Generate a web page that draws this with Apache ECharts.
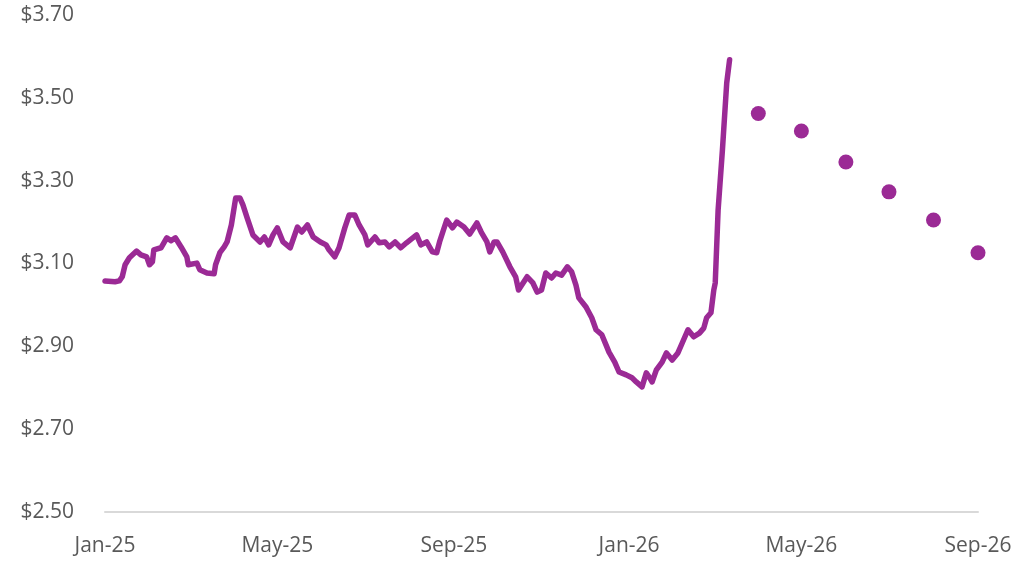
<!DOCTYPE html>
<html>
<head>
<meta charset="utf-8">
<script src="https://cdn.jsdelivr.net/npm/echarts@6/dist/echarts.min.js"></script>
<style>
html,body{margin:0;padding:0;background:#fff;}
#chart{width:1024px;height:562px;}
</style>
</head>
<body>
<div id="chart"></div>
<script>
// Historical daily price (dates and values)
const histDates = [
 '2025-01-01','2025-01-08','2025-01-11','2025-01-13','2025-01-15','2025-01-18','2025-01-23','2025-01-26','2025-01-30','2025-02-01',
 '2025-02-03','2025-02-04','2025-02-09','2025-02-13','2025-02-16','2025-02-19','2025-02-23','2025-02-27','2025-02-28','2025-03-06',
 '2025-03-08','2025-03-13','2025-03-18','2025-03-19','2025-03-22','2025-03-25','2025-03-27','2025-03-30','2025-04-02','2025-04-05',
 '2025-04-07','2025-04-10','2025-04-14','2025-04-19','2025-04-22','2025-04-25','2025-04-28','2025-05-01','2025-05-05','2025-05-10',
 '2025-05-15','2025-05-18','2025-05-22','2025-05-26','2025-05-31','2025-06-04','2025-06-06','2025-06-10','2025-06-13','2025-06-17',
 '2025-06-20','2025-06-24','2025-06-27','2025-07-01','2025-07-03','2025-07-08','2025-07-11','2025-07-15','2025-07-18','2025-07-22',
 '2025-07-26','2025-07-30','2025-08-06','2025-08-09','2025-08-13','2025-08-17','2025-08-20','2025-08-22','2025-08-27','2025-08-31',
 '2025-09-03','2025-09-08','2025-09-12','2025-09-17','2025-09-20','2025-09-24','2025-09-26','2025-09-29','2025-10-01','2025-10-05',
 '2025-10-10','2025-10-14','2025-10-16','2025-10-22','2025-10-26','2025-10-29','2025-11-01','2025-11-04','2025-11-08','2025-11-11',
 '2025-11-15','2025-11-19','2025-11-22','2025-11-25','2025-11-27','2025-12-02','2025-12-06','2025-12-09','2025-12-13','2025-12-16',
 '2025-12-18','2025-12-22','2025-12-25','2025-12-30','2026-01-03','2026-01-06','2026-01-10','2026-01-13','2026-01-15','2026-01-17',
 '2026-01-20','2026-01-24','2026-01-27','2026-01-31','2026-02-04','2026-02-07','2026-02-11','2026-02-15','2026-02-19','2026-02-22',
 '2026-02-24','2026-02-27','2026-03-01','2026-03-02','2026-03-04','2026-03-07','2026-03-10','2026-03-12'
];
const histValues = [
 3.058,3.056,3.058,3.068,3.097,3.114,3.130,3.121,3.116,3.097,
 3.104,3.133,3.138,3.162,3.155,3.162,3.140,3.116,3.097,3.101,
 3.085,3.077,3.075,3.097,3.126,3.140,3.152,3.193,3.258,3.258,
 3.242,3.210,3.169,3.152,3.164,3.145,3.169,3.186,3.152,3.138,
 3.188,3.176,3.193,3.164,3.152,3.145,3.133,3.116,3.138,3.186,
 3.217,3.217,3.193,3.169,3.145,3.164,3.150,3.152,3.140,3.152,
 3.138,3.150,3.169,3.145,3.152,3.128,3.126,3.152,3.205,3.186,
 3.200,3.188,3.171,3.198,3.176,3.152,3.128,3.152,3.152,3.128,
 3.092,3.068,3.036,3.068,3.053,3.031,3.036,3.077,3.065,3.077,
 3.072,3.092,3.080,3.048,3.017,2.995,2.969,2.940,2.928,2.903,
 2.886,2.862,2.838,2.831,2.824,2.814,2.802,2.836,2.826,2.814,
 2.843,2.862,2.884,2.867,2.884,2.908,2.940,2.923,2.932,2.944,
 2.969,2.981,3.036,3.053,3.229,3.374,3.536,3.592
];
// Monthly forecast points
const fcDates = ['2026-04-01','2026-05-01','2026-06-01','2026-07-01','2026-08-01','2026-09-01'];
const fcValues = [3.462,3.420,3.345,3.273,3.205,3.126];
// Tick labels
const tickDates = ['2025-01-01','2025-05-01','2025-09-01','2026-01-01','2026-05-01','2026-09-01'];
const tickLabels = ['Jan-25','May-25','Sep-25','Jan-26','May-26','Sep-26'];
const yTicks = [2.5, 2.7, 2.9, 3.1, 3.3, 3.5, 3.7];

function ts(s){ const p = s.split('-').map(Number); return new Date(p[0], p[1]-1, p[2]).getTime(); }
const tickTs = tickDates.map(ts);

const purple = '#9B2A95';
const chart = echarts.init(document.getElementById('chart'), null, {renderer:'canvas'});
chart.setOption({
  animation: false,
  backgroundColor: '#ffffff',
  grid: {left: 105, right: 46, top: 15, bottom: 50, containLabel: false},
  xAxis: {
    type: 'value',
    min: tickTs[0],
    max: tickTs[tickTs.length-1],
    axisLine: {show: true, lineStyle: {color: '#d9d9d9', width: 2}},
    axisTick: {show: false},
    splitLine: {show: false},
    axisLabel: {
      customValues: tickTs,
      margin: 24,
      color: '#595959',
      fontSize: 21,
      fontFamily: 'Open Sans',
      formatter: function(v){
        let best = 0;
        for (let i = 1; i < tickTs.length; i++) if (Math.abs(tickTs[i]-v) < Math.abs(tickTs[best]-v)) best = i;
        return tickLabels[best];
      }
    }
  },
  yAxis: {
    type: 'value',
    min: yTicks[0],
    max: yTicks[yTicks.length-1],
    interval: 0.2,
    axisLine: {show: false},
    axisTick: {show: false},
    splitLine: {show: false},
    axisLabel: {
      margin: 31,
      color: '#595959',
      fontSize: 21,
      fontFamily: 'Open Sans',
      formatter: function(v){ return '$' + v.toFixed(2); }
    }
  },
  series: [
    {
      type: 'line',
      data: histDates.map((d,i)=>[ts(d), histValues[i]]),
      showSymbol: false,
      symbol: 'none',
      lineStyle: {color: purple, width: 5.5, cap: 'round', join: 'round'},
      z: 3
    },
    {
      type: 'scatter',
      data: fcDates.map((d,i)=>[ts(d), fcValues[i]]),
      symbol: 'circle',
      symbolSize: 15,
      itemStyle: {color: purple, opacity: 1},
      z: 4
    }
  ]
});
</script>
</body>
</html>
